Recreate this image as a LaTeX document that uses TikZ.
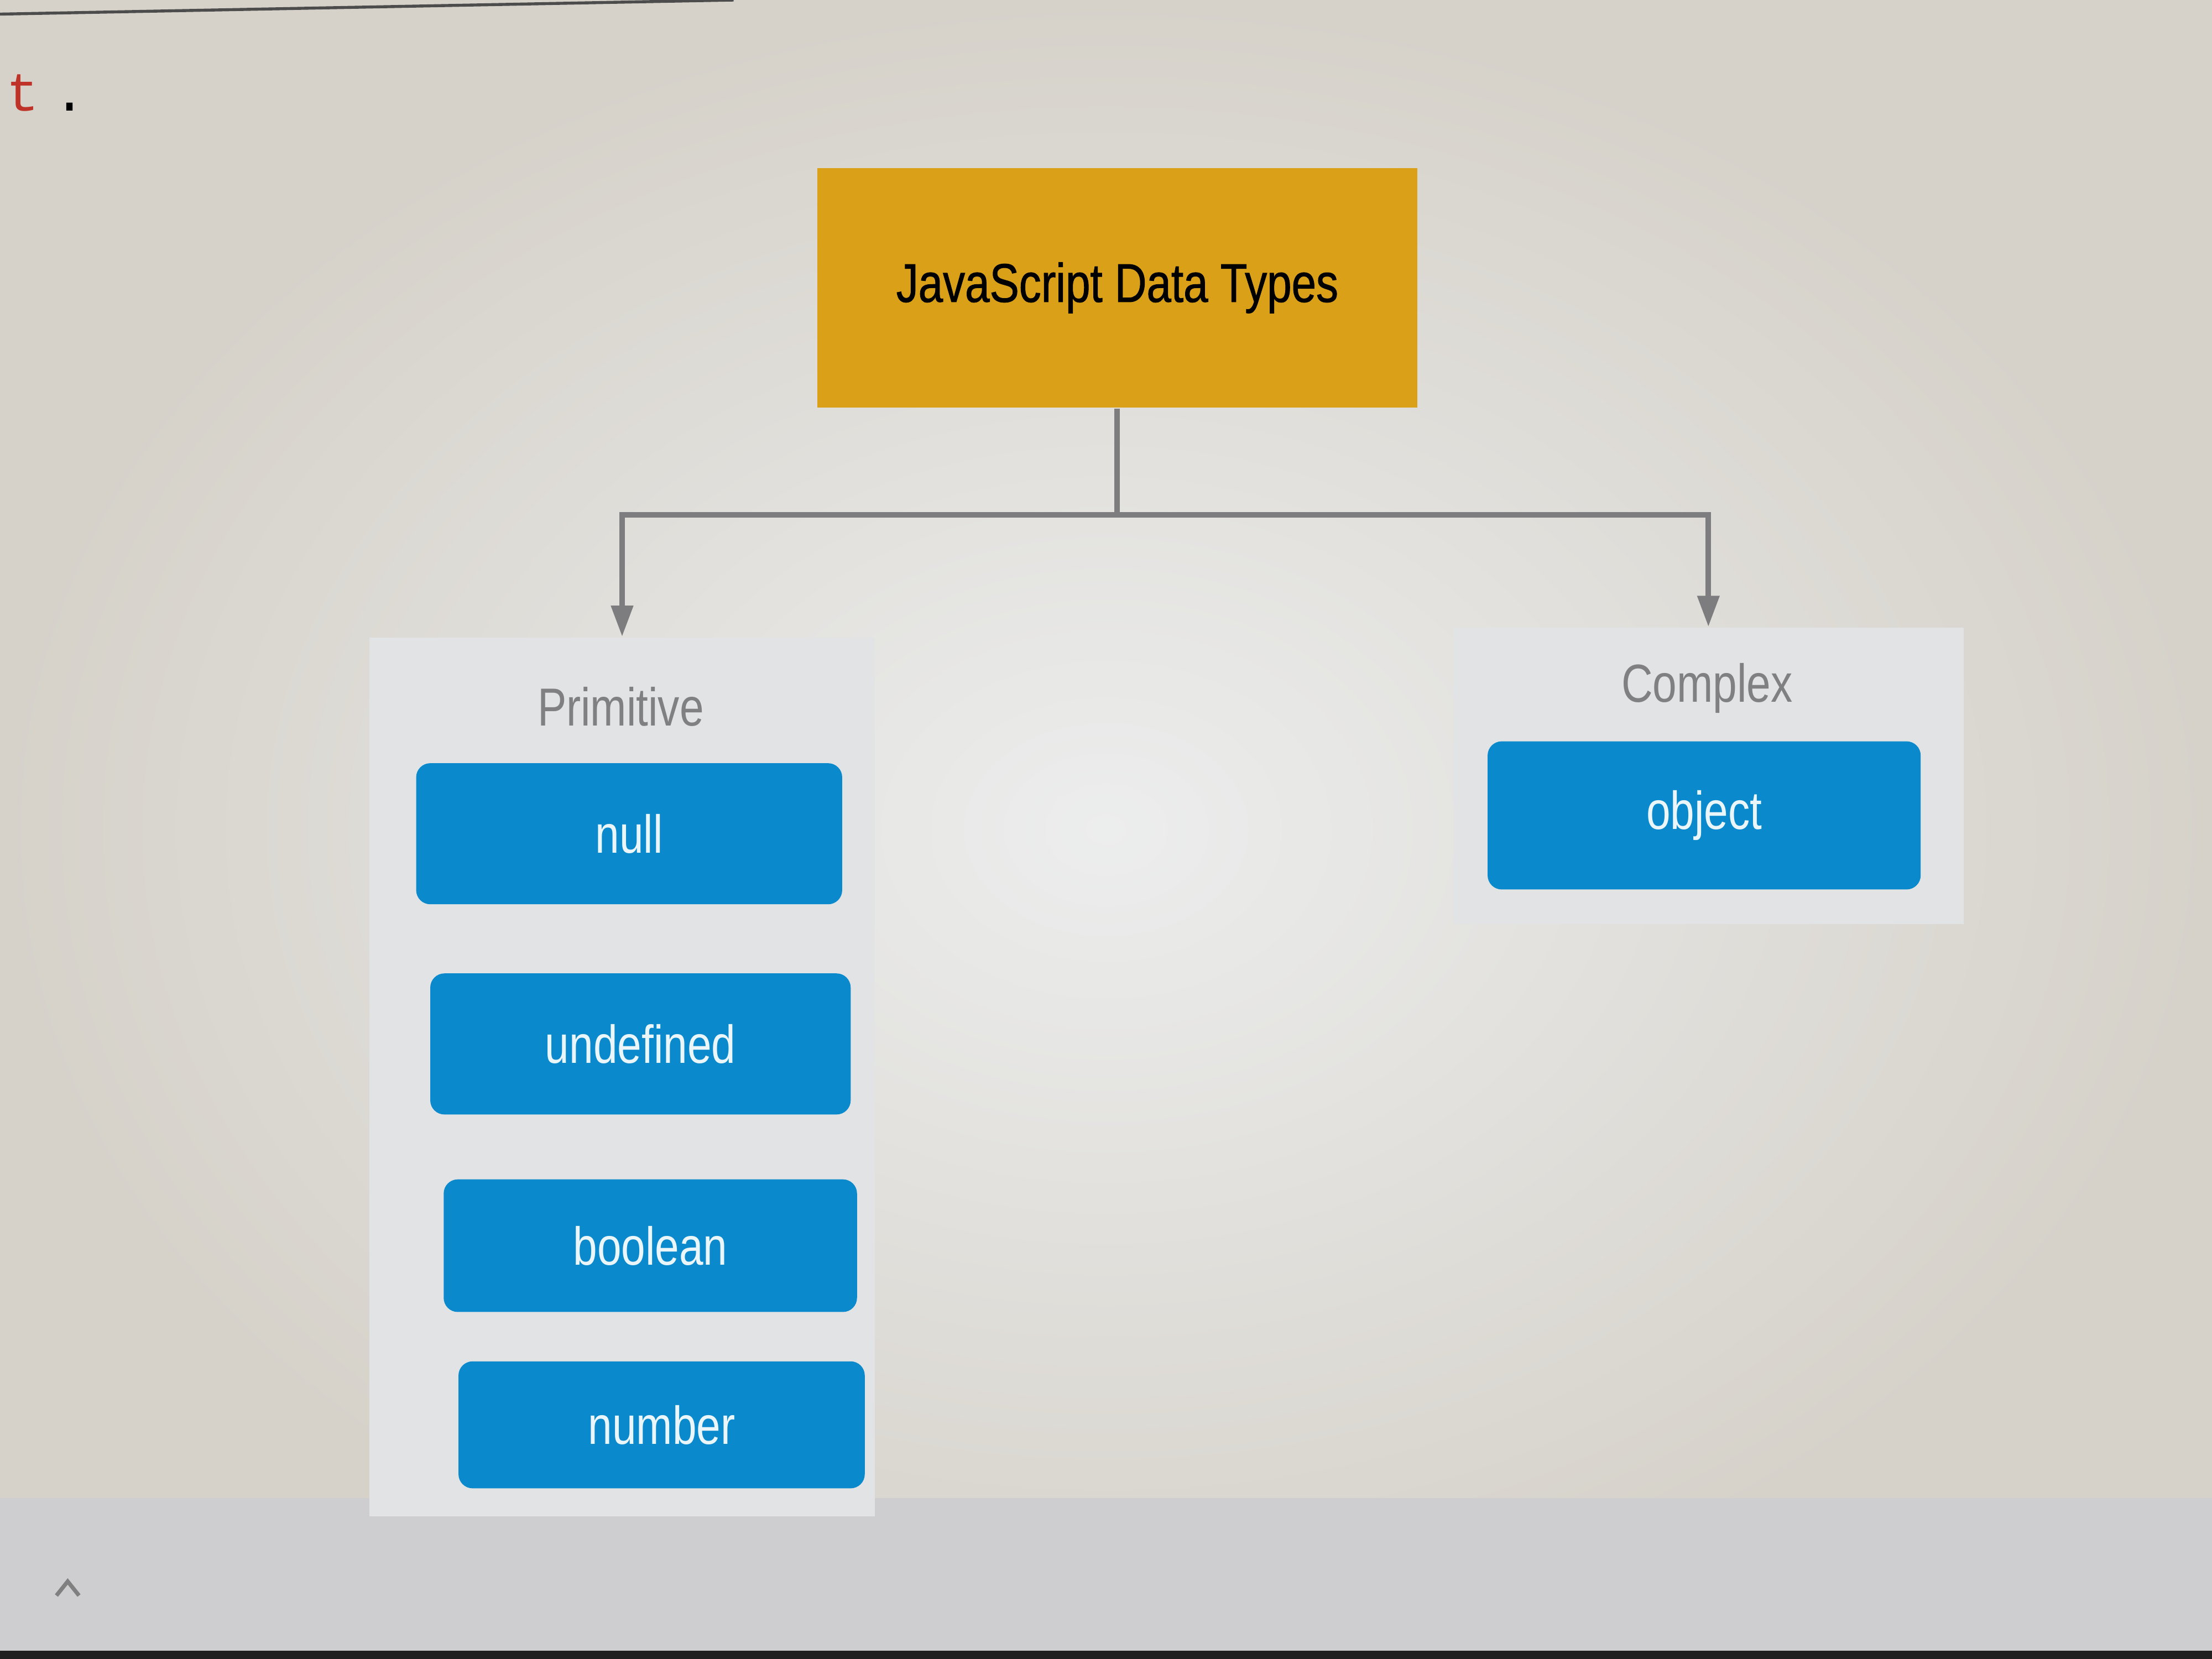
\documentclass[tikz,border=0pt]{standalone}
\usepackage{fontspec}
\setmainfont{Liberation Sans}
\newfontfamily\narrowfont[FakeStretch=0.81]{Liberation Sans}
\newfontfamily\titlefont[FakeStretch=0.81,FakeBold=1]{Liberation Sans}
\newfontfamily\codefont{Liberation Mono}
\usetikzlibrary{arrows.meta}
\definecolor{jsorange}{RGB}{218,160,24}
\definecolor{jsblue}{RGB}{10,138,204}
\definecolor{panelgray}{RGB}{226,227,228}
\definecolor{screenlight}{RGB}{236,237,237}
\definecolor{screenedge}{RGB}{214,210,202}
\definecolor{stripgray}{RGB}{206,206,209}
\definecolor{linegray}{RGB}{125,125,128}
\definecolor{labelgray}{RGB}{128,128,130}
\definecolor{codered}{RGB}{190,50,40}

\begin{document}
\begin{tikzpicture}[x=0.1mm, y=-0.1mm, >={Triangle[width=1.5mm,length=2.2mm]},
        titlebox/.style={fill=jsorange, text=black, minimum width=42.5mm, minimum height=17mm, font=\titlefont\fontsize{11}{13}\selectfont},
        typebox/.style={fill=jsblue, rounded corners=1mm, text=white!92!jsblue, font=\narrowfont\fontsize{10.8}{13}\selectfont},
        panel/.style={fill=panelgray, inner sep=0pt},
        grouplabel/.style={text=labelgray, font=\narrowfont\fontsize{10.8}{13}\selectfont},
        conn/.style={draw=linegray, line width=1.1pt}]
        \useasboundingbox (0,0) rectangle (1568,1176);
        % screen under the photo
        \shade[inner color=screenlight, outer color=screenedge] (0,0) rectangle (1568,1176);
        \fill[stripgray] (0,1062) rectangle (1568,1176);
        \fill[black!75!gray] (0,1170) rectangle (1568,1176);
        \draw[gray!60!black, line width=0.6pt] (0,10) -- (520,0);
        \node[anchor=west, inner sep=0pt, font=\codefont\fontsize{11}{13}\selectfont] (codetail) at (4,66) {\textcolor{codered}{t}\hspace{1mm}.};
        \draw[gray, line width=0.8pt] (40,1131) -- (48,1121) -- (56,1131);

        % title
        \node[titlebox] (title) at (792,204) {JavaScript Data Types};

        % groups
        \node[panel, minimum width=35.8mm, minimum height=62.3mm] (prim) at (441,763.5) {};
        \node[panel, minimum width=36.2mm, minimum height=21mm] (cplx) at (1211,550) {};
        \node[grouplabel] (primlabel) at (440,501) {Primitive};
        \node[grouplabel] (cplxlabel) at (1210,488) {Complex};

        \foreach \tname/\cx/\cy/\w/\h in {null/446/591/30.2/10, undefined/454/740/29.8/10, boolean/461/883/29.3/9.4, number/469/1010/28.8/9}
            {
                \node[typebox, minimum width=\w mm, minimum height=\h mm] (\tname) at (\cx,\cy) {\tname};
            }
        \node[typebox, minimum width=30.7mm, minimum height=10.5mm] (object) at (1208,578) {object};

        % connectors
        \coordinate (split) at (792,365);
        \draw[conn] (title.south) -- (split);
        \draw[conn, ->] (split) -| (prim.north);
        \draw[conn, ->] (split) -| (cplx.north);
    \end{tikzpicture}
\end{document}
